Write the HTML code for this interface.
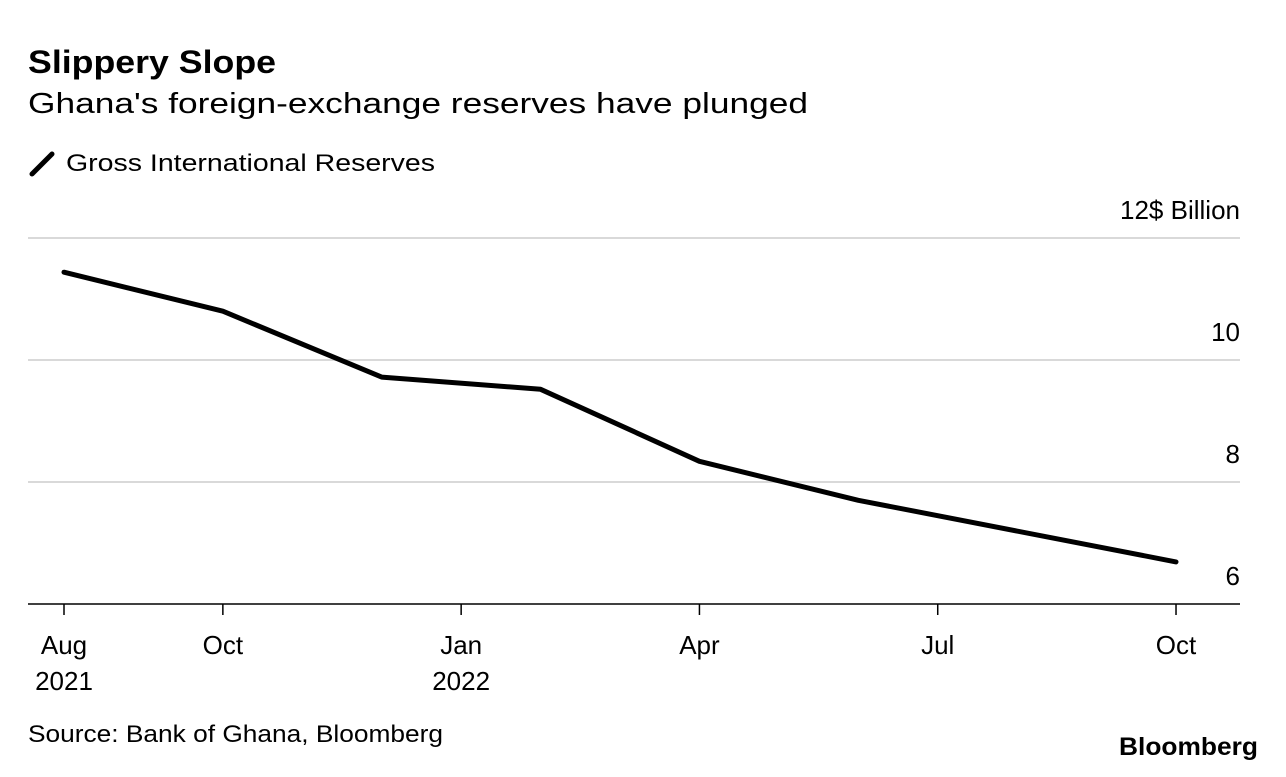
<!DOCTYPE html>
<html><head><meta charset="utf-8">
<style>
body{margin:0;background:#fff;width:1286px;height:772px;overflow:hidden;font-family:"Liberation Sans",Arial,sans-serif;color:#000}
svg text{font-family:"Liberation Sans",Arial,sans-serif}
</style></head>
<body>
<svg width="1286" height="772" viewBox="0 0 1286 772">
<text x="28" y="73" font-size="32" font-weight="bold" textLength="248" lengthAdjust="spacingAndGlyphs">Slippery Slope</text>
<text x="28" y="113" font-size="29" textLength="780" lengthAdjust="spacingAndGlyphs">Ghana's foreign-exchange reserves have plunged</text>
<line x1="32" y1="174" x2="52" y2="154" stroke="#000" stroke-width="5" stroke-linecap="round"/>
<text x="66" y="171" font-size="24" textLength="369" lengthAdjust="spacingAndGlyphs">Gross International Reserves</text>
<g id="grid"></g>
<g id="axes"></g>
<path id="line" fill="none" stroke="#000" stroke-width="5" stroke-linejoin="round" stroke-linecap="round"/>
<text x="28" y="742" font-size="24" textLength="415" lengthAdjust="spacingAndGlyphs">Source: Bank of Ghana, Bloomberg</text>
<text x="1119" y="755" font-size="25" font-weight="bold" textLength="139" lengthAdjust="spacingAndGlyphs">Bloomberg</text>
</svg>
<script>
const monthIndex=[0,2,4,6,8,10,14];
const reserves=[11.44,10.80,9.72,9.52,8.34,7.70,6.69];
const yTicks=[6,8,10,12];
const yTickLabels=["6","8","10","12$ Billion"];
const xTickMonths=[0,2,5,8,11,14];
const xTickLine1=["Aug","Oct","Jan","Apr","Jul","Oct"];
const xTickLine2=["2021","","2022","","",""];
const NS="http://www.w3.org/2000/svg";
const X=i=>64+i*79.43;
const Y=v=>604-(v-6)*61;
function mk(tag,attrs,parent,text){const e=document.createElementNS(NS,tag);for(const k in attrs)e.setAttribute(k,attrs[k]);if(text!==undefined)e.textContent=text;parent.appendChild(e);return e;}
const grid=document.getElementById('grid'),axes=document.getElementById('axes');
yTicks.forEach((t,i)=>{
  const l=mk('line',{x1:28,x2:1240,y1:Y(t),y2:Y(t),stroke:t===6?'#000':'#d9d9d9','stroke-width':t===6?1.5:2},grid);
  
  
  const tx=mk('text',{x:1240,y:Y(t)-19,'font-size':26,'text-anchor':'end'},axes,yTickLabels[i]);
  
  
});
xTickMonths.forEach((m,i)=>{
  const x=X(m);
  const tk=mk('line',{x1:x,x2:x,y1:604,y2:615,stroke:'#000','stroke-width':1.5},axes);
  
  
  const t1=mk('text',{x:x,y:654,'font-size':26,'text-anchor':'middle'},axes,xTickLine1[i]);
  
  
  if(xTickLine2[i]){
    const t2=mk('text',{x:x,y:690,'font-size':26,'text-anchor':'middle'},axes,xTickLine2[i]);
    
    
  }
});
document.getElementById('line').setAttribute('d',monthIndex.map((m,i)=>(i?'L':'M')+X(m).toFixed(1)+','+Y(reserves[i]).toFixed(1)).join(' '));
</script>
</body></html>
